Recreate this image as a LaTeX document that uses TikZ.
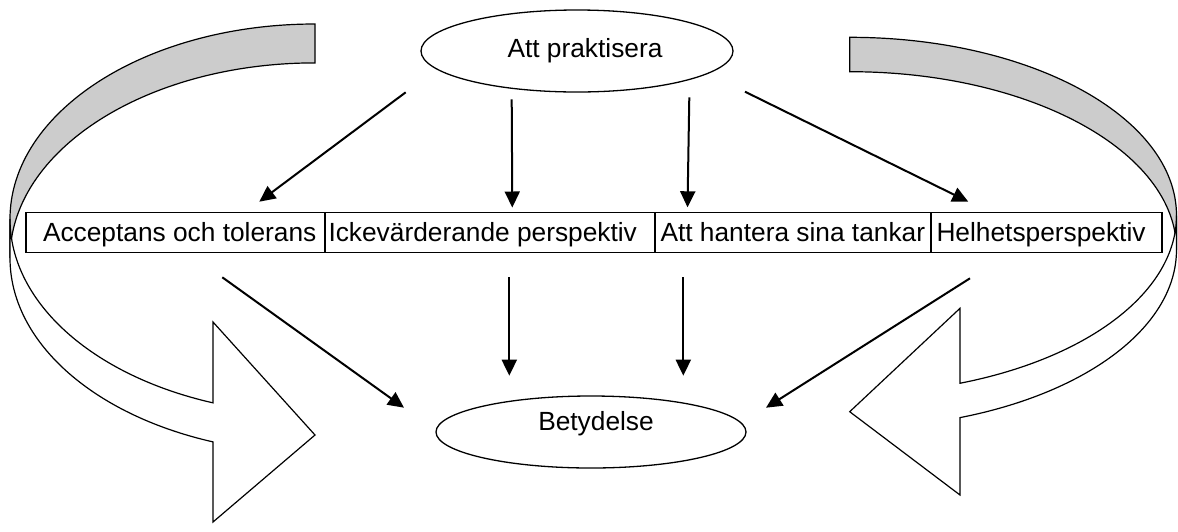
\documentclass[tikz,border=0pt]{standalone}
\usepackage{fontspec}
\setmainfont{Liberation Sans}
\usetikzlibrary{arrows.meta,shapes.geometric}
\definecolor{backgray}{RGB}{204,204,204}
\begin{document}
\begin{tikzpicture}[x=1pt,y=1pt,
  outline/.style={draw=black, line width=1.2pt, line join=miter},
  backband/.style={outline, fill=backgray},
  frontband/.style={outline, fill=white},
  oval/.style={draw, ellipse, line width=1.3pt, inner sep=0pt, text height=18.8pt, font=\fontsize{26.3}{30}\selectfont},
  cell/.style={draw, rectangle, line width=1.3pt, inner xsep=5.5pt, inner ysep=0pt, outer sep=0pt, minimum height=40pt, text height=18.8pt, text depth=0pt, anchor=north west, font=\fontsize{26.3}{30}\selectfont},
  arr/.style={line width=2pt, -{Triangle[length=16pt,width=15pt]}}
]
\useasboundingbox (0,0) rectangle (1178,-531);

% left curved arrow (back band, then front band)
\path[backband] (315,-24) arc[start angle=90, end angle=180, x radius=305pt, y radius=195.1pt]
  -- (10,-258) arc[start angle=180, end angle=90, x radius=305pt, y radius=195.1pt] -- cycle;
\path[frontband] (10,-219) arc[start angle=180, end angle=250.46, x radius=305pt, y radius=195.1pt]
  -- (213,-322) -- (315,-435) -- (213,-522) -- (213,-441.9)
  arc[start angle=250.46, end angle=180, x radius=305pt, y radius=195.1pt] -- cycle;

% right curved arrow
\path[backband] (849.7,-37.3) arc[start angle=90, end angle=0, x radius=326.8pt, y radius=178.2pt]
  -- (1176.5,-249.9) arc[start angle=0, end angle=90, x radius=326.8pt, y radius=178.2pt] -- cycle;
\path[frontband] (1176.5,-215.5) arc[start angle=0, end angle=-70.27, x radius=326.8pt, y radius=178.2pt]
  -- (960,-308.3) -- (849.7,-411.7) -- (960,-495) -- (960,-417.6)
  arc[start angle=-70.27, end angle=0, x radius=326.8pt, y radius=178.2pt] -- cycle;

% ellipses
\node[oval, minimum width=312pt, minimum height=82pt, text depth=6pt] (top) at (577,-51) {\hspace*{16pt}Att praktisera};
\node[oval, minimum width=310pt, minimum height=72pt, text depth=22.8pt] (bottom) at (591,-432) {\hspace*{10pt}Betydelse};

% boxes
\node[cell, minimum width=299pt] (b1) at (26,-212.5) {\makebox[288pt][l]{\hspace*{11.5pt}Acceptans och tolerans}};
\node[cell, minimum width=330pt] (b2) at (b1.north east) {\makebox[319pt][l]{\hspace*{-2pt}Ickevärderande perspektiv}};
\node[cell, minimum width=276pt] (b3) at (b2.north east) {\makebox[265pt][l]{Att hantera sina tankar}};
\node[cell, minimum width=231pt] (b4) at (b3.north east) {\makebox[220pt][l]{Helhetsperspektiv}};

% connector end points
\coordinate (s1) at (405.7,-92.3);  \coordinate (e1) at (259.3,-201.7);
\coordinate (s2) at (511.7,-99.3);  \coordinate (e2) at (512.3,-207.5);
\coordinate (s3) at (689.3,-97.3);  \coordinate (e3) at (687.5,-207.3);
\coordinate (s4) at (745,-91.7);    \coordinate (e4) at (968.3,-201.7);
\coordinate (s5) at (222.3,-277.3); \coordinate (e5) at (404,-407.7);
\coordinate (s6) at (509.3,-277.3); \coordinate (e6) at (509.3,-375.7);
\coordinate (s7) at (683.3,-277.3); \coordinate (e7) at (683.3,-375.7);
\coordinate (s8) at (970,-278.3);   \coordinate (e8) at (766,-407.7);

\foreach \i in {1,...,8} {\draw[arr] (s\i) -- (e\i);}
\end{tikzpicture}
\end{document}
